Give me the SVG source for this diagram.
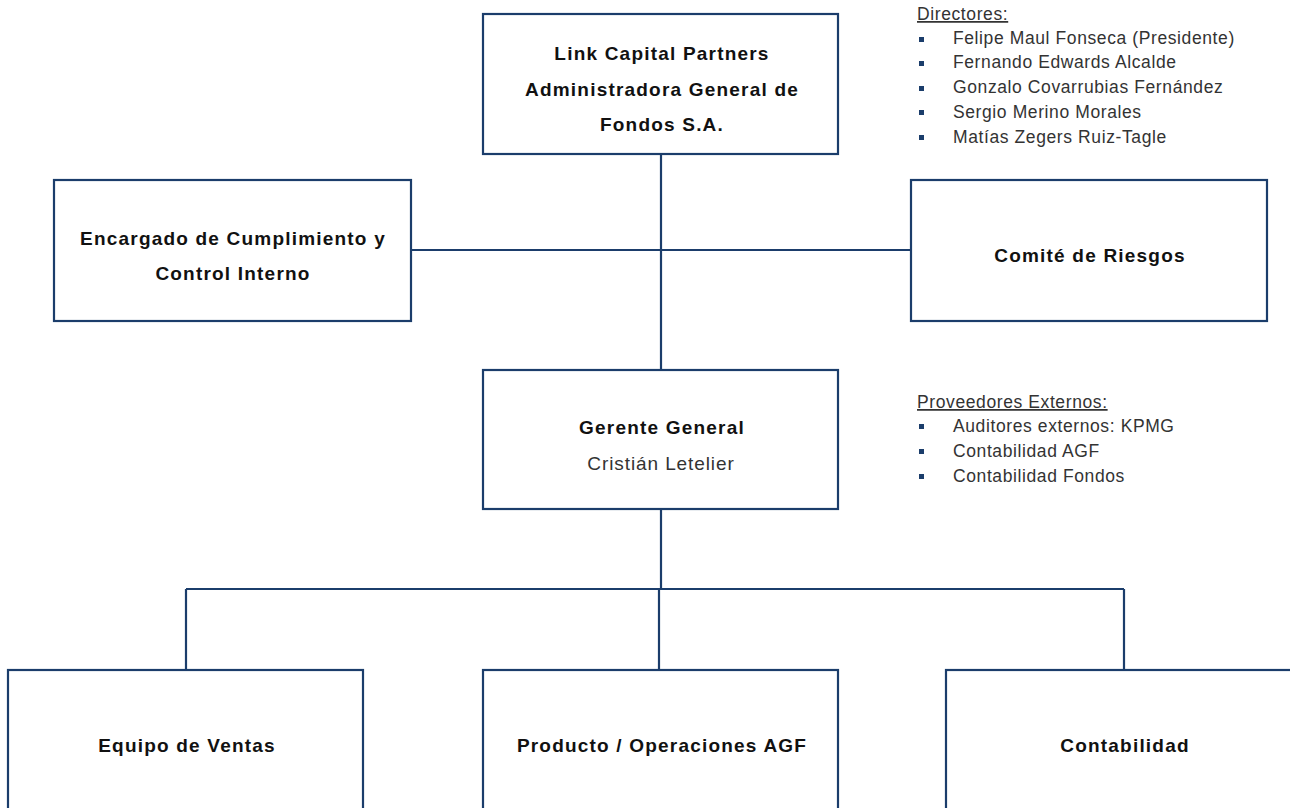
<svg xmlns="http://www.w3.org/2000/svg" width="1290" height="808" viewBox="0 0 1290 808">
<style>
.box{fill:#fff;stroke:#1b3d6b;stroke-width:2.2}
.ln{fill:none;stroke:#1b3d6b;stroke-width:2.2}
.b{font-family:"Liberation Sans",Arial,sans-serif;font-weight:bold;font-size:19px;letter-spacing:1.2px;fill:#111;text-anchor:middle}
.r{font-family:"Liberation Sans",Arial,sans-serif;font-size:19px;letter-spacing:0.9px;fill:#333;text-anchor:middle}
.l{font-family:"Liberation Sans",Arial,sans-serif;font-size:17.5px;letter-spacing:0.6px;fill:#333}
.u{text-decoration:underline}
.bul{fill:#1b3d6b}
</style>
<rect width="1290" height="808" fill="#fff"/>
<g id="connectors">
<path class="ln" d="M661 154V370M411 250H911"/>
<path class="ln" d="M661 509V589M186 589H1124M186 589V670M1124 589V670M659 589V670"/>
</g>
<g id="n-top"><rect class="box" x="483" y="14" width="355" height="140"/>
<text class="b" x="662" y="60">Link Capital Partners</text>
<text class="b" x="662" y="96">Administradora General de</text>
<text class="b" x="662" y="131">Fondos S.A.</text></g>
<g id="n-enc"><rect class="box" x="54" y="180" width="357" height="141"/>
<text class="b" x="233" y="245">Encargado de Cumplimiento y</text>
<text class="b" x="233" y="280">Control Interno</text></g>
<g id="n-com"><rect class="box" x="911" y="180" width="356" height="141"/>
<text class="b" x="1090" y="262">Comité de Riesgos</text></g>
<g id="n-ger"><rect class="box" x="483" y="370" width="355" height="139"/>
<text class="b" x="662" y="434">Gerente General</text>
<text class="r" x="661" y="470">Cristián Letelier</text></g>
<g id="n-ven"><rect class="box" x="8" y="670" width="355" height="150"/>
<text class="b" x="187" y="752">Equipo de Ventas</text></g>
<g id="n-pro"><rect class="box" x="483" y="670" width="355" height="150"/>
<text class="b" x="662" y="752">Producto / Operaciones AGF</text></g>
<g id="n-con"><rect class="box" x="946" y="670" width="355" height="150"/>
<text class="b" x="1125" y="752">Contabilidad</text></g>
<g id="directores">
<text class="l u" x="917" y="20">Directores:</text>
<rect class="bul" x="919" y="37" width="5" height="5"/><text class="l" x="953" y="44">Felipe Maul Fonseca (Presidente)</text>
<rect class="bul" x="919" y="61" width="5" height="5"/><text class="l" x="953" y="68">Fernando Edwards Alcalde</text>
<rect class="bul" x="919" y="86" width="5" height="5"/><text class="l" x="953" y="93">Gonzalo Covarrubias Fernández</text>
<rect class="bul" x="919" y="110" width="5" height="5"/><text class="l" x="953" y="118">Sergio Merino Morales</text>
<rect class="bul" x="919" y="135" width="5" height="5"/><text class="l" x="953" y="143">Matías Zegers Ruiz-Tagle</text>
</g>
<g id="proveedores">
<text class="l u" x="917" y="408">Proveedores Externos:</text>
<rect class="bul" x="919" y="424" width="5" height="5"/><text class="l" x="953" y="432">Auditores externos: KPMG</text>
<rect class="bul" x="919" y="449" width="5" height="5"/><text class="l" x="953" y="457">Contabilidad AGF</text>
<rect class="bul" x="919" y="474" width="5" height="5"/><text class="l" x="953" y="482">Contabilidad Fondos</text>
</g>
</svg>
